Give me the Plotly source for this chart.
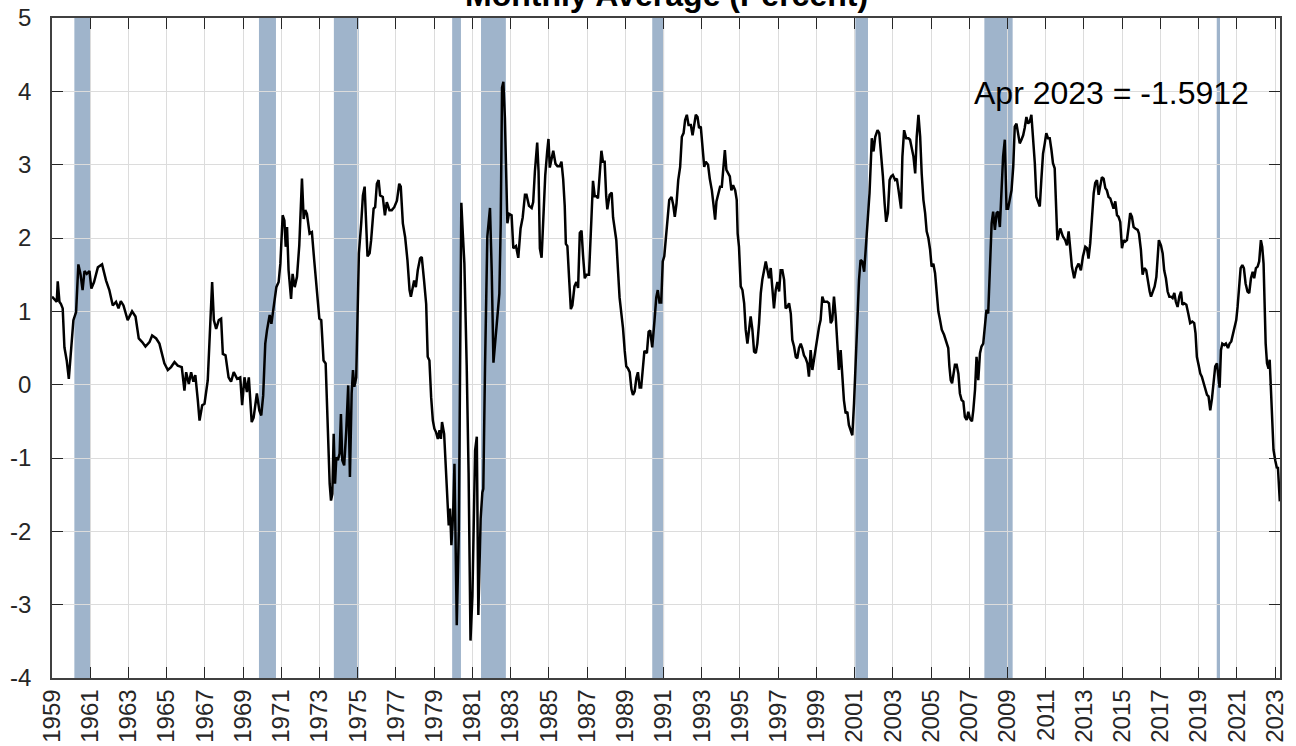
import plotly.graph_objects as go

# Decimal years and monthly-average spread values (percent)
years = [
    1959.0, 1959.17, 1959.25, 1959.3, 1959.39, 1959.47, 1959.56, 1959.65, 1959.77, 1959.88,
    1960.0, 1960.12, 1960.26, 1960.38, 1960.49, 1960.6, 1960.7, 1960.82, 1960.96, 1961.06,
    1961.2, 1961.4, 1961.62, 1961.83, 1962.0, 1962.18, 1962.35, 1962.48, 1962.6, 1962.74,
    1962.96, 1963.19, 1963.37, 1963.54, 1963.72, 1963.89, 1964.1, 1964.24, 1964.45, 1964.62,
    1964.88, 1965.06, 1965.23, 1965.41, 1965.58, 1965.79, 1965.93, 1966.02, 1966.16, 1966.28,
    1966.4, 1966.5, 1966.63, 1966.72, 1966.86, 1966.98, 1967.15, 1967.28, 1967.38, 1967.47,
    1967.59, 1967.73, 1967.85, 1967.94, 1968.08, 1968.24, 1968.37, 1968.51, 1968.69, 1968.85,
    1968.95, 1969.07, 1969.2, 1969.3, 1969.45, 1969.55, 1969.72, 1969.85, 1969.95, 1970.05,
    1970.16, 1970.25, 1970.39, 1970.48, 1970.6, 1970.74, 1970.86, 1970.95, 1971.07, 1971.16,
    1971.23, 1971.3, 1971.38, 1971.51, 1971.59, 1971.7, 1971.82, 1971.94, 1972.08, 1972.17,
    1972.25, 1972.34, 1972.48, 1972.6, 1972.72, 1972.86, 1972.99, 1973.09, 1973.21, 1973.32,
    1973.42, 1973.53, 1973.6, 1973.67, 1973.74, 1973.81, 1973.88, 1973.96, 1974.05, 1974.12,
    1974.19, 1974.29, 1974.4, 1974.5, 1974.59, 1974.68, 1974.75, 1974.82, 1974.92, 1974.99,
    1975.06, 1975.18, 1975.27, 1975.36, 1975.44, 1975.51, 1975.62, 1975.7, 1975.83, 1975.91,
    1976.0, 1976.09, 1976.17, 1976.31, 1976.42, 1976.52, 1976.66, 1976.78, 1976.91, 1977.05,
    1977.17, 1977.25, 1977.36, 1977.48, 1977.6, 1977.71, 1977.78, 1977.86, 1977.95, 1978.04,
    1978.14, 1978.26, 1978.35, 1978.47, 1978.58, 1978.66, 1978.75, 1978.84, 1978.93, 1979.01,
    1979.1, 1979.19, 1979.28, 1979.35, 1979.41, 1979.52, 1979.6, 1979.69, 1979.76, 1979.83,
    1979.9, 1979.99, 1980.06, 1980.11, 1980.18, 1980.29, 1980.36, 1980.42, 1980.5, 1980.58,
    1980.7, 1980.8, 1980.9, 1981.0, 1981.14, 1981.23, 1981.31, 1981.43, 1981.52, 1981.57,
    1981.66, 1981.78, 1981.92, 1982.01, 1982.1, 1982.18, 1982.27, 1982.41, 1982.48, 1982.55,
    1982.62, 1982.7, 1982.76, 1982.83, 1982.91, 1983.05, 1983.14, 1983.28, 1983.4, 1983.52,
    1983.63, 1983.75, 1983.83, 1983.96, 1984.1, 1984.18, 1984.27, 1984.39, 1984.46, 1984.53,
    1984.62, 1984.7, 1984.81, 1984.91, 1984.98, 1985.05, 1985.14, 1985.23, 1985.35, 1985.45,
    1985.57, 1985.66, 1985.75, 1985.83, 1985.89, 1985.97, 1986.06, 1986.15, 1986.23, 1986.34,
    1986.44, 1986.53, 1986.62, 1986.71, 1986.79, 1986.88, 1986.97, 1987.1, 1987.23, 1987.31,
    1987.4, 1987.49, 1987.57, 1987.66, 1987.75, 1987.83, 1987.92, 1988.0, 1988.06, 1988.18,
    1988.29, 1988.36, 1988.44, 1988.53, 1988.62, 1988.7, 1988.79, 1988.88, 1988.97, 1989.05,
    1989.14, 1989.23, 1989.32, 1989.4, 1989.49, 1989.58, 1989.66, 1989.75, 1989.83, 1989.92,
    1990.0, 1990.13, 1990.22, 1990.3, 1990.41, 1990.53, 1990.62, 1990.7, 1990.79, 1990.88,
    1990.96, 1991.04, 1991.13, 1991.21, 1991.3, 1991.42, 1991.51, 1991.59, 1991.68, 1991.77,
    1991.87, 1991.96, 1992.05, 1992.13, 1992.22, 1992.31, 1992.43, 1992.52, 1992.6, 1992.69,
    1992.78, 1992.86, 1992.95, 1993.04, 1993.13, 1993.21, 1993.33, 1993.42, 1993.53, 1993.61,
    1993.7, 1993.77, 1993.87, 1993.96, 1994.05, 1994.14, 1994.21, 1994.29, 1994.38, 1994.47,
    1994.55, 1994.64, 1994.75, 1994.83, 1994.88, 1994.95, 1995.04, 1995.13, 1995.22, 1995.3,
    1995.39, 1995.48, 1995.56, 1995.65, 1995.74, 1995.83, 1995.91, 1996.0, 1996.09, 1996.17,
    1996.26, 1996.35, 1996.44, 1996.52, 1996.61, 1996.7, 1996.78, 1996.87, 1996.96, 1997.05,
    1997.13, 1997.22, 1997.31, 1997.39, 1997.48, 1997.57, 1997.66, 1997.74, 1997.83, 1997.92,
    1998.0, 1998.09, 1998.18, 1998.26, 1998.35, 1998.44, 1998.53, 1998.61, 1998.7, 1998.79,
    1998.87, 1998.96, 1999.05, 1999.14, 1999.22, 1999.31, 1999.4, 1999.48, 1999.57, 1999.66,
    1999.75, 1999.83, 1999.92, 2000.01, 2000.1, 2000.18, 2000.27, 2000.36, 2000.44, 2000.53,
    2000.62, 2000.7, 2000.79, 2000.88, 2000.97, 2001.05, 2001.14, 2001.23, 2001.31, 2001.4,
    2001.5, 2001.64, 2001.78, 2001.9, 2001.99, 2002.08, 2002.2, 2002.29, 2002.37, 2002.48,
    2002.57, 2002.65, 2002.74, 2002.83, 2002.91, 2003.0, 2003.12, 2003.21, 2003.3, 2003.38,
    2003.43, 2003.5, 2003.59, 2003.7, 2003.82, 2003.9, 2003.99, 2004.08, 2004.17, 2004.25,
    2004.34, 2004.43, 2004.51, 2004.6, 2004.69, 2004.77, 2004.86, 2004.95, 2005.03, 2005.12,
    2005.21, 2005.3, 2005.38, 2005.47, 2005.56, 2005.68, 2005.78, 2005.9, 2005.96, 2006.03,
    2006.1, 2006.17, 2006.25, 2006.34, 2006.43, 2006.51, 2006.6, 2006.69, 2006.77, 2006.86,
    2006.95, 2007.03, 2007.14, 2007.21, 2007.3, 2007.38, 2007.47, 2007.56, 2007.64, 2007.73,
    2007.82, 2007.9, 2007.99, 2008.08, 2008.17, 2008.25, 2008.34, 2008.43, 2008.51, 2008.6,
    2008.69, 2008.77, 2008.86, 2008.95, 2009.03, 2009.12, 2009.21, 2009.3, 2009.38, 2009.47,
    2009.56, 2009.64, 2009.73, 2009.82, 2009.9, 2009.99, 2010.08, 2010.17, 2010.25, 2010.34,
    2010.43, 2010.51, 2010.6, 2010.69, 2010.77, 2010.86, 2010.95, 2011.03, 2011.12, 2011.21,
    2011.3, 2011.38, 2011.47, 2011.52, 2011.61, 2011.76, 2011.9, 2012.02, 2012.11, 2012.2,
    2012.28, 2012.37, 2012.49, 2012.6, 2012.72, 2012.84, 2012.95, 2013.07, 2013.16, 2013.24,
    2013.33, 2013.42, 2013.51, 2013.59, 2013.68, 2013.77, 2013.85, 2013.94, 2014.03, 2014.12,
    2014.2, 2014.29, 2014.38, 2014.47, 2014.55, 2014.64, 2014.73, 2014.81, 2014.9, 2014.99,
    2015.08, 2015.16, 2015.25, 2015.34, 2015.42, 2015.51, 2015.6, 2015.69, 2015.81, 2015.88,
    2015.98, 2016.07, 2016.16, 2016.26, 2016.35, 2016.44, 2016.51, 2016.59, 2016.7, 2016.79,
    2016.85, 2016.92, 2017.03, 2017.12, 2017.2, 2017.29, 2017.38, 2017.47, 2017.55, 2017.64,
    2017.73, 2017.81, 2017.9, 2017.99, 2018.08, 2018.15, 2018.25, 2018.36, 2018.46, 2018.56,
    2018.67, 2018.77, 2018.84, 2018.91, 2019.0, 2019.09, 2019.17, 2019.26, 2019.35, 2019.44,
    2019.52, 2019.61, 2019.7, 2019.79, 2019.87, 2019.96, 2020.03, 2020.1, 2020.17, 2020.24,
    2020.34, 2020.43, 2020.54, 2020.62, 2020.71, 2020.8, 2020.88, 2020.97, 2021.04, 2021.11,
    2021.2, 2021.29, 2021.37, 2021.46, 2021.56, 2021.65, 2021.74, 2021.83, 2021.91, 2022.0,
    2022.09, 2022.17, 2022.26, 2022.33, 2022.4, 2022.45, 2022.51, 2022.58, 2022.66, 2022.72,
    2022.78, 2022.85, 2022.92, 2023.01, 2023.1, 2023.15, 2023.2, 2023.25,
]

spread = [
    1.20, 1.15, 1.13, 1.41, 1.13, 1.10, 1.04, 0.51, 0.33, 0.08,
    0.51, 0.88, 0.99, 1.64, 1.51, 1.29, 1.55, 1.51, 1.55, 1.31,
    1.40, 1.60, 1.64, 1.42, 1.29, 1.08, 1.13, 1.04, 1.14, 1.08,
    0.88, 1.00, 0.93, 0.63, 0.58, 0.52, 0.58, 0.67, 0.63, 0.56,
    0.29, 0.20, 0.24, 0.31, 0.26, 0.24, -0.08, 0.17, 0.01, 0.17,
    0.04, 0.13, -0.21, -0.49, -0.28, -0.26, 0.06, 0.88, 1.40, 0.88,
    0.76, 0.88, 0.90, 0.42, 0.40, 0.10, 0.04, 0.17, 0.08, 0.10,
    -0.28, 0.10, -0.10, 0.10, -0.51, -0.45, -0.12, -0.35, -0.42, -0.15,
    0.56, 0.74, 0.95, 0.83, 1.06, 1.33, 1.40, 1.65, 2.31, 2.24,
    1.88, 2.15, 1.56, 1.17, 1.51, 1.33, 1.47, 1.90, 2.81, 2.26,
    2.38, 2.33, 2.06, 2.08, 1.70, 1.29, 0.90, 0.88, 0.33, 0.29,
    -0.62, -1.35, -1.58, -1.49, -0.67, -1.35, -0.99, -1.03, -0.94, -0.40,
    -1.03, -1.10, -0.62, -0.01, -1.26, -0.12, 0.20, -0.03, 0.10, 1.10,
    1.79, 2.20, 2.58, 2.70, 2.20, 1.75, 1.79, 1.97, 2.40, 2.42,
    2.74, 2.79, 2.58, 2.56, 2.31, 2.49, 2.38, 2.38, 2.42, 2.51,
    2.74, 2.70, 2.20, 2.01, 1.70, 1.29, 1.20, 1.33, 1.42, 1.33,
    1.56, 1.72, 1.74, 1.42, 1.10, 0.38, 0.33, -0.17, -0.49, -0.60,
    -0.65, -0.74, -0.62, -0.74, -0.51, -0.67, -1.08, -1.53, -1.92, -1.69,
    -2.19, -1.76, -1.08, -1.99, -3.28, -1.99, 1.20, 2.48, 2.05, 1.65,
    0.27, -1.20, -3.49, -2.88, -0.90, -0.71, -3.14, -1.83, -1.47, -1.42,
    0.25, 2.02, 2.41, 1.55, 0.30, 0.56, 0.77, 1.24, 2.18, 4.05,
    4.13, 3.64, 2.96, 2.20, 2.33, 2.31, 1.86, 1.89, 1.73, 2.13,
    2.28, 2.59, 2.59, 2.44, 2.41, 2.49, 2.91, 3.30, 2.91, 1.86,
    1.73, 2.18, 2.85, 3.17, 3.35, 2.96, 3.06, 3.19, 3.01, 2.98,
    2.98, 3.04, 2.80, 2.44, 1.92, 1.89, 1.45, 1.03, 1.08, 1.34,
    1.40, 1.32, 2.07, 2.10, 1.76, 1.45, 1.50, 1.50, 2.28, 2.78,
    2.57, 2.57, 2.54, 2.91, 3.19, 3.04, 3.04, 2.57, 2.39, 2.59,
    2.62, 2.28, 2.13, 1.97, 1.55, 1.19, 0.98, 0.77, 0.46, 0.25,
    0.22, 0.17, -0.06, -0.14, -0.09, 0.09, 0.17, -0.04, -0.04, 0.30,
    0.46, 0.43, 0.72, 0.74, 0.51, 0.88, 1.19, 1.29, 1.12, 1.12,
    1.68, 1.75, 2.02, 2.29, 2.52, 2.56, 2.45, 2.29, 2.47, 2.79,
    2.97, 3.38, 3.43, 3.61, 3.68, 3.54, 3.54, 3.40, 3.52, 3.68,
    3.65, 3.50, 3.52, 3.29, 2.97, 3.04, 3.00, 2.81, 2.65, 2.47,
    2.25, 2.50, 2.63, 2.70, 2.70, 2.93, 3.20, 2.93, 2.88, 2.84,
    2.65, 2.72, 2.65, 2.52, 2.06, 1.88, 1.34, 1.29, 1.11, 0.75,
    0.56, 0.75, 0.93, 0.75, 0.45, 0.43, 0.56, 0.84, 1.25, 1.43,
    1.56, 1.68, 1.56, 1.45, 1.59, 1.29, 1.04, 1.29, 1.40, 1.27,
    1.56, 1.56, 1.43, 1.04, 1.06, 1.11, 0.97, 0.61, 0.52, 0.38,
    0.36, 0.50, 0.56, 0.50, 0.40, 0.36, 0.29, 0.11, 0.47, 0.20,
    0.34, 0.47, 0.68, 0.79, 0.88, 1.20, 1.13, 1.13, 1.13, 1.11,
    0.84, 0.88, 1.20, 0.93, 0.56, 0.20, 0.47, 0.15, -0.21, -0.39,
    -0.37, -0.55, -0.64, -0.69, -0.25, 0.29, 0.84, 1.43, 1.70, 1.68,
    1.54, 2.02, 2.61, 3.36, 3.18, 3.38, 3.47, 3.43, 3.20, 2.84,
    2.47, 2.22, 2.34, 2.79, 2.84, 2.86, 2.79, 2.81, 2.65, 2.43,
    2.40, 3.11, 3.47, 3.36, 3.36, 3.34, 3.22, 3.11, 2.88, 3.38,
    3.68, 3.38, 2.88, 2.52, 2.34, 2.09, 2.00, 1.84, 1.61, 1.65,
    1.52, 1.29, 1.00, 0.88, 0.75, 0.68, 0.61, 0.50, 0.25, 0.06,
    0.02, 0.15, 0.27, 0.27, 0.15, -0.12, -0.21, -0.23, -0.44, -0.48,
    -0.37, -0.46, -0.50, -0.35, -0.07, 0.38, 0.06, 0.43, 0.52, 0.56,
    0.84, 1.02, 0.97, 1.65, 2.20, 2.36, 2.11, 2.34, 2.36, 2.15,
    2.65, 3.11, 3.34, 2.40, 2.40, 2.56, 2.65, 2.97, 3.52, 3.56,
    3.43, 3.29, 3.34, 3.40, 3.50, 3.65, 3.56, 3.59, 3.68, 3.34,
    3.02, 2.56, 2.50, 2.43, 2.79, 3.15, 3.29, 3.43, 3.36, 3.36,
    3.20, 3.02, 2.95, 2.52, 1.97, 2.13, 2.02, 1.97, 1.90, 2.09,
    1.84, 1.61, 1.45, 1.59, 1.65, 1.56, 1.75, 1.88, 1.86, 1.72,
    1.93, 2.29, 2.61, 2.75, 2.79, 2.59, 2.70, 2.83, 2.81, 2.68,
    2.65, 2.56, 2.54, 2.47, 2.40, 2.50, 2.31, 2.29, 2.22, 1.86,
    1.97, 1.95, 1.97, 2.15, 2.34, 2.29, 2.15, 2.13, 2.11, 2.06,
    1.84, 1.50, 1.59, 1.56, 1.40, 1.27, 1.20, 1.27, 1.34, 1.47,
    1.75, 1.97, 1.90, 1.79, 1.56, 1.45, 1.27, 1.20, 1.20, 1.18,
    1.25, 1.13, 1.06, 1.20, 1.27, 1.09, 1.11, 1.09, 0.97, 0.84,
    0.86, 0.84, 0.70, 0.38, 0.27, 0.15, 0.11, 0.02, -0.03, -0.14,
    -0.16, -0.35, -0.19, 0.11, 0.25, 0.29, 0.06, -0.04, 0.47, 0.56,
    0.54, 0.56, 0.50, 0.56, 0.59, 0.70, 0.81, 0.88, 1.06, 1.34,
    1.59, 1.63, 1.59, 1.38, 1.27, 1.25, 1.45, 1.54, 1.45, 1.59,
    1.61, 1.68, 1.97, 1.88, 1.65, 1.15, 0.56, 0.29, 0.22, 0.34,
    0.02, -0.44, -0.89, -1.03, -1.14, -1.12, -1.35, -1.5912,
]

# Recession periods (decimal years)
rec_start = [1960.17, 1969.83, 1973.75, 1979.94, 1981.45, 1990.41, 2001.04, 2007.79, 2019.95]
rec_end = [1961.0, 1970.72, 1975.05, 1980.4, 1982.75, 1991.03, 2001.7, 2009.27, 2020.12]

tick_years = list(range(1959, 2024, 2))
y_ticks = list(range(-4, 6))

title_text = "Monthly Average (Percent)"
last_label = "Apr 2023 = -1.5912"

FONT = "Liberation Sans, Arial, sans-serif"

fig = go.Figure()
fig.add_trace(go.Scatter(
    x=years, y=spread, mode="lines",
    line=dict(color="black", width=2.5),
    showlegend=False, hoverinfo="x+y",
))

for s, e in zip(rec_start, rec_end):
    fig.add_shape(type="rect", xref="x", yref="paper", x0=s, x1=e, y0=0, y1=1,
                  fillcolor="#9fb4cb", line=dict(width=0), layer="below")

fig.add_annotation(text=last_label, xref="paper", yref="paper", x=0.863, y=0.886,
                   showarrow=False, font=dict(family=FONT, size=32, color="black"),
                   xanchor="center", yanchor="middle")

fig.add_annotation(text="<b>" + title_text + "</b>", xref="paper", yref="paper",
                   x=0.5, y=1, yshift=23, showarrow=False,
                   font=dict(family=FONT, size=32, color="black"),
                   xanchor="center", yanchor="middle")

axis_common = dict(
    showline=True, linecolor="#404040", linewidth=1.5, mirror="ticks",
    ticks="inside", ticklen=11, tickwidth=1.3, tickcolor="#262626",
    showgrid=True, gridcolor="#dcdcdc", gridwidth=1, zeroline=False,
    automargin=False,
)

fig.update_xaxes(range=[1959, 2023.26], tickmode="array", tickvals=tick_years,
                 ticktext=[str(t) for t in tick_years], tickangle=-90,
                 tickfont=dict(family=FONT, size=24, color="#262626"), **axis_common)
fig.update_yaxes(range=[-4, 5], tickmode="array", tickvals=y_ticks,
                 ticktext=[str(t) for t in y_ticks], ticklabelstandoff=14,
                 tickfont=dict(family=FONT, size=24, color="#262626"), **axis_common)

fig.update_layout(
    width=1296, height=746,
    margin=dict(l=52, r=16, t=18, b=68),
    paper_bgcolor="white", plot_bgcolor="white",
    showlegend=False,
)

fig.write_html("out.html", config={"displayModeBar": False},
               post_script="document.body.style.margin='0';")
